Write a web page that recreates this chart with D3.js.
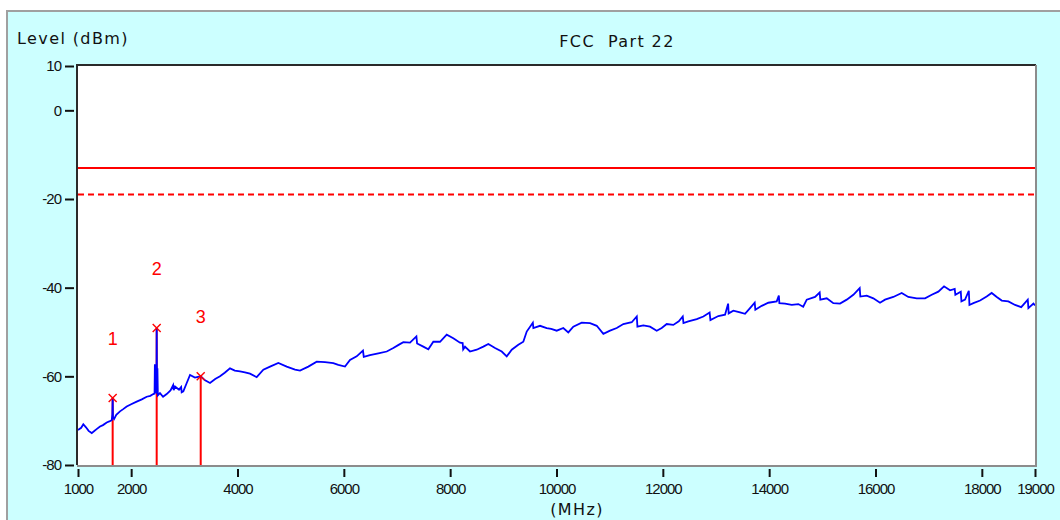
<!DOCTYPE html>
<html><head><meta charset="utf-8">
<script src="https://cdn.jsdelivr.net/npm/d3@7"></script>
<style>body{margin:0;background:#fff;} svg{display:block}</style>
</head><body><svg id="c" width="1060" height="520"></svg>
<script>
// trace: [frequency MHz, level dBm]
const trace = [[1000,-72.1],[1060,-71.6],[1100,-70.8],[1150,-71.5],[1200,-72.3],[1258,-72.8],[1300,-72.4],[1350,-71.9],[1414,-71.3],[1470,-71.0],[1540,-70.4],[1600,-70.1],[1635,-69.9],[1646,-68.5],[1652,-64.9],[1658,-69.2],[1680,-69.6],[1720,-68.7],[1790,-67.9],[1850,-67.4],[1916,-66.8],[2000,-66.3],[2104,-65.7],[2200,-65.2],[2292,-64.6],[2360,-64.4],[2416,-64.0],[2440,-63.9],[2446,-57.3],[2456,-57.6],[2462,-63.8],[2470,-57.5],[2476,-63.5],[2480,-49.1],[2486,-63.9],[2494,-58.2],[2502,-64.3],[2542,-63.8],[2600,-64.6],[2668,-64.0],[2740,-63.2],[2790,-62.0],[2800,-63.1],[2825,-62.3],[2900,-63.0],[2940,-62.4],[2950,-63.6],[2981,-63.4],[3045,-61.5],[3107,-59.7],[3200,-60.3],[3308,-60.0],[3390,-60.9],[3483,-61.5],[3580,-60.6],[3671,-60.0],[3760,-59.2],[3859,-58.2],[3950,-58.7],[4047,-58.9],[4140,-59.1],[4235,-59.4],[4361,-60.2],[4486,-58.5],[4612,-57.8],[4768,-57.0],[4926,-57.8],[5082,-58.5],[5176,-58.7],[5332,-57.8],[5490,-56.7],[5646,-56.8],[5802,-57.0],[5896,-57.4],[6022,-57.8],[6116,-56.3],[6242,-55.5],[6360,-54.2],[6375,-55.6],[6492,-55.2],[6649,-54.8],[6807,-54.4],[6931,-53.6],[7030,-52.9],[7119,-52.3],[7245,-52.4],[7365,-51.0],[7378,-52.6],[7495,-53.3],[7589,-53.9],[7683,-52.2],[7809,-52.2],[7935,-50.6],[8059,-51.4],[8185,-52.4],[8235,-52.5],[8245,-53.9],[8279,-53.3],[8373,-54.4],[8499,-54.0],[8624,-53.3],[8718,-52.7],[8844,-53.6],[8970,-54.4],[9064,-55.5],[9158,-54.0],[9282,-52.9],[9376,-52.2],[9440,-49.9],[9555,-47.9],[9565,-49.1],[9690,-48.6],[9816,-49.1],[9900,-49.3],[10004,-49.7],[10128,-49.1],[10222,-50.1],[10316,-48.8],[10474,-47.9],[10631,-48.0],[10757,-48.6],[10881,-50.4],[11007,-49.7],[11133,-49.1],[11257,-48.2],[11415,-47.8],[11510,-46.5],[11522,-48.8],[11633,-48.5],[11759,-48.8],[11885,-49.7],[11979,-49.1],[12073,-48.2],[12197,-48.4],[12300,-47.6],[12375,-46.5],[12388,-48.0],[12480,-47.6],[12638,-47.1],[12762,-46.5],[12880,-45.6],[12895,-47.3],[13044,-46.4],[13170,-46.1],[13228,-43.6],[13238,-45.8],[13326,-45.2],[13452,-45.6],[13546,-45.9],[13640,-44.6],[13728,-43.4],[13740,-45.0],[13860,-44.1],[13984,-43.4],[14142,-43.1],[14182,-41.8],[14192,-43.5],[14299,-43.6],[14425,-43.9],[14549,-43.7],[14640,-44.3],[14707,-42.7],[14863,-42.1],[14950,-41.1],[14962,-42.7],[15083,-42.4],[15207,-43.5],[15333,-43.6],[15459,-42.7],[15583,-41.6],[15703,-40.1],[15715,-42.0],[15835,-41.8],[15959,-42.4],[16085,-43.4],[16179,-42.7],[16335,-42.1],[16493,-41.2],[16617,-42.1],[16776,-42.4],[16932,-42.4],[17058,-41.6],[17182,-40.9],[17289,-39.7],[17402,-40.6],[17490,-40.3],[17502,-41.6],[17604,-40.9],[17616,-43.1],[17684,-42.7],[17755,-40.7],[17767,-43.9],[17841,-43.5],[17967,-42.9],[18091,-42.0],[18185,-41.2],[18281,-42.1],[18375,-42.9],[18499,-43.1],[18625,-43.9],[18741,-44.4],[18864,-42.7],[18876,-44.6],[18970,-43.6],[19000,-44.0]];
const markerFreq = [1652, 2480, 3308];
const markerLevel = [-64.9, -49.1, -60.0];
const markerLabel = ["1", "2", "3"];
const limitSolid = -13;
const limitDashed = -19;
const xTicks = [1000, 2000, 4000, 6000, 8000, 10000, 12000, 14000, 16000, 18000, 19000];
const yTicks = [10, 0, -20, -40, -60, -80];
const chartTitle = "FCC  Part 22";
const yTitle = "Level (dBm)";
const xTitle = "(MHz)";

const svg = d3.select('#c');
const W = 1060, H = 520;
const L = 78, R = 1035, T = 66, B = 465;
const red = '#ff0000', blue = '#0000ff';

svg.append('rect').attr('x', 7).attr('y', 11).attr('width', W).attr('height', H)
  .attr('fill', '#ccffff').attr('stroke', '#a0a0a0').attr('stroke-width', 2);

const x = d3.scaleLinear().domain([1000, 19000]).range([L, R]);
const y = d3.scaleLinear().domain([-80, 10]).range([B, T]);

svg.append('rect').attr('x', L).attr('y', T).attr('width', R - L).attr('height', B - T).attr('fill', '#fff');

const txt = (sel) => sel.attr('font-family', 'DejaVu Sans, sans-serif').attr('font-size', 16)
  .attr('letter-spacing', 1.4).attr('fill', '#111').style('white-space', 'pre');

svg.append('text').call(txt).attr('x', 17).attr('y', 44).text(yTitle);
svg.append('text').call(txt).attr('x', 617).attr('y', 47).attr('text-anchor', 'middle').text(chartTitle);
svg.append('text').call(txt).attr('x', 577).attr('y', 515).attr('text-anchor', 'middle').text(xTitle);

// axes
const yAxis = d3.axisLeft(y).tickValues(yTicks).tickSize(9).tickPadding(4).tickFormat(d => String(d));
const gy = svg.append('g').attr('transform', `translate(${L - 4},0)`).call(yAxis);
const xAxis = d3.axisBottom(x).tickValues(xTicks).tickSize(8).tickPadding(6).tickFormat(d => String(d));
const gx = svg.append('g').attr('transform', `translate(0,${B + 4})`).call(xAxis);
[gx, gy].forEach(g => {
  g.select('.domain').remove();
  g.selectAll('.tick line').attr('stroke', '#111').attr('stroke-width', 2);
  g.selectAll('.tick text').attr('font-family', 'Liberation Sans, Arial, sans-serif')
    .attr('font-size', 15).attr('letter-spacing', -1).attr('fill', '#111');
});

// limit lines
svg.append('line').attr('x1', L).attr('x2', R).attr('y1', y(limitSolid)).attr('y2', y(limitSolid))
  .attr('stroke', red).attr('stroke-width', 2);
svg.append('line').attr('x1', L).attr('x2', R).attr('y1', y(limitDashed)).attr('y2', y(limitDashed))
  .attr('stroke', red).attr('stroke-width', 2).attr('stroke-dasharray', '6,4');

const markers = markerFreq.map((f, i) => ({f, v: markerLevel[i], label: markerLabel[i]}));

// marker stems
svg.selectAll('line.stem').data(markers).join('line').attr('class', 'stem')
  .attr('x1', d => x(d.f)).attr('x2', d => x(d.f)).attr('y1', B).attr('y2', d => y(d.v))
  .attr('stroke', red).attr('stroke-width', 2);

// trace
svg.append('path').datum(trace)
  .attr('d', d3.line().x(d => x(d[0])).y(d => y(d[1])))
  .attr('fill', 'none').attr('stroke', blue).attr('stroke-width', 1.8).attr('stroke-linejoin', 'miter');

// marker crosses + labels
const s = 4;
markers.forEach(d => {
  const cx = x(d.f), cy = y(d.v);
  svg.append('path').attr('d', `M${cx - s},${cy - s}L${cx + s},${cy + s}M${cx - s},${cy + s}L${cx + s},${cy - s}`)
    .attr('stroke', red).attr('stroke-width', 1.4).attr('fill', 'none');
  svg.append('text').attr('x', cx).attr('y', cy - 53).attr('text-anchor', 'middle')
    .attr('font-family', 'Liberation Sans, Arial, sans-serif').attr('font-size', 18).attr('fill', red).text(d.label);
});

// frame (sunken)
svg.append('path').attr('d', `M${L - 1},${B}V${T - 1}H${R + 1}`).attr('fill', 'none').attr('stroke', '#2a2a2a').attr('stroke-width', 2);
svg.append('path').attr('d', `M${R + 1},${T - 1}V${B + 1}H${L - 1}`).attr('fill', 'none').attr('stroke', '#8c8c8c').attr('stroke-width', 2);
</script></body></html>
